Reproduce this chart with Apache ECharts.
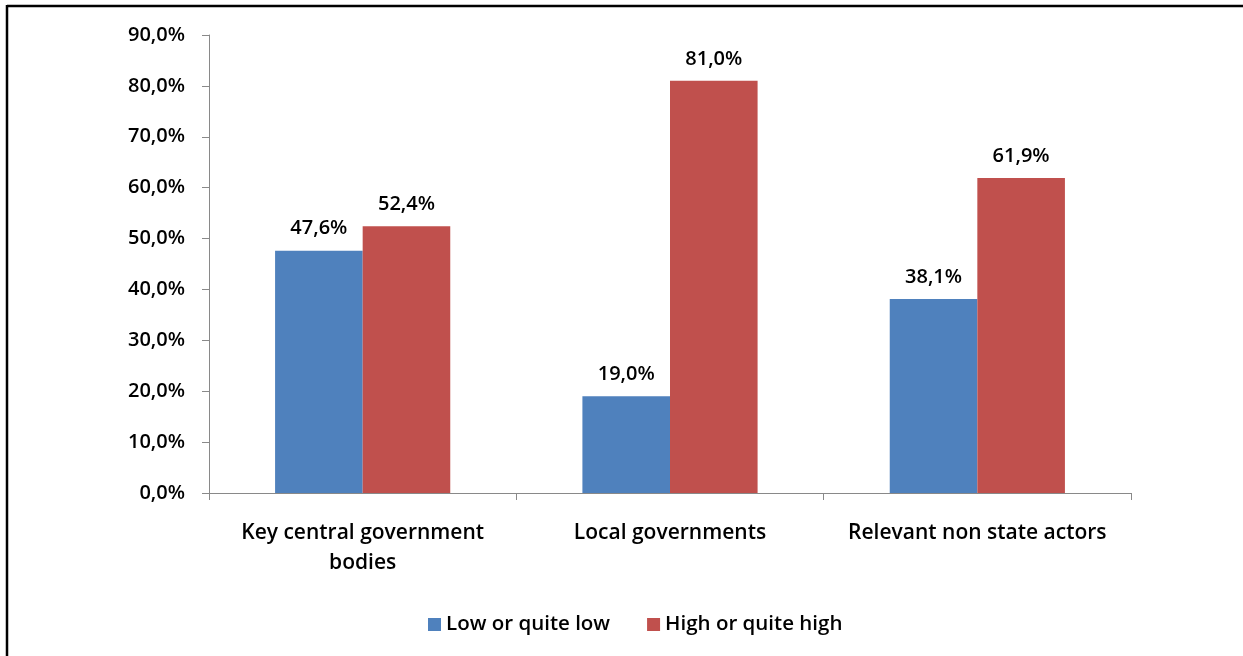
<!DOCTYPE html>
<html>
<head>
<meta charset="utf-8">
<script src="https://cdn.jsdelivr.net/npm/echarts@6/dist/echarts.min.js"></script>
<style>
  html, body { margin: 0; padding: 0; background: #fff; }
  #chart { width: 1243px; height: 656px; }
</style>
</head>
<body>
<div id="chart"></div>
<script>
// Survey: perceived level of involvement by actor group (percent)
const categories = ['Key central government\nbodies', 'Local governments', 'Relevant non state actors'];
const lowValues = [47.6, 19.0, 38.1];
const highValues = [52.4, 81.0, 61.9];
const seriesNames = ['Low or quite low', 'High or quite high'];

const fontFamily = '"Open Sans", Lato, sans-serif';
const fontWeight = 600;
const fmtPct = v => v.toFixed(1).replace('.', ',') + '%';

const chart = echarts.init(document.getElementById('chart'), null, { renderer: 'canvas' });

const barLabel = {
  show: true,
  position: 'top',
  distance: 12,
  color: '#000',
  fontFamily,
  fontWeight,
  fontSize: 20,
  formatter: p => fmtPct(p.value)
};

chart.setOption({
  animation: false,
  backgroundColor: '#fff',
  grid: { left: 209, right: 112, top: 35, bottom: 163, containLabel: false },
  legend: {
    data: seriesNames,
    bottom: 16,
    left: 423,
    itemWidth: 13,
    itemHeight: 13,
    itemGap: 37,
    icon: 'rect',
    textStyle: { color: '#000', fontFamily, fontWeight, fontSize: 20.5 }
  },
  xAxis: {
    type: 'category',
    data: categories,
    axisLine: { lineStyle: { color: '#898989', width: 1 } },
    axisTick: { show: true, length: 7, lineStyle: { color: '#898989' } },
    axisLabel: {
      color: '#000',
      fontFamily,
      fontWeight,
      fontSize: 21,
      margin: 25,
      lineHeight: 30,
      interval: 0
    },
    splitLine: { show: false }
  },
  yAxis: {
    type: 'value',
    min: 0,
    max: 90,
    interval: 10,
    axisLine: { show: true, lineStyle: { color: '#898989', width: 1 } },
    axisTick: { show: true, length: 7, lineStyle: { color: '#898989' } },
    axisLabel: {
      color: '#000',
      fontFamily,
      fontWeight,
      fontSize: 20,
      margin: 24,
      formatter: v => fmtPct(v)
    },
    splitLine: { show: false }
  },
  series: [
    {
      name: seriesNames[0],
      type: 'bar',
      data: lowValues,
      barGap: '0%',
      barCategoryGap: '43%',
      itemStyle: { color: '#4F81BD' },
      label: barLabel
    },
    {
      name: seriesNames[1],
      type: 'bar',
      data: highValues,
      itemStyle: { color: '#C0504D' },
      label: barLabel
    }
  ],
  graphic: [
    {
      type: 'line',
      shape: { x1: 7, y1: 6, x2: 1243, y2: 6 },
      style: { stroke: '#000', lineWidth: 2.5 }
    },
    {
      type: 'line',
      shape: { x1: 7, y1: 5, x2: 7, y2: 656 },
      style: { stroke: '#000', lineWidth: 2.5 }
    }
  ]
});
</script>
</body>
</html>
